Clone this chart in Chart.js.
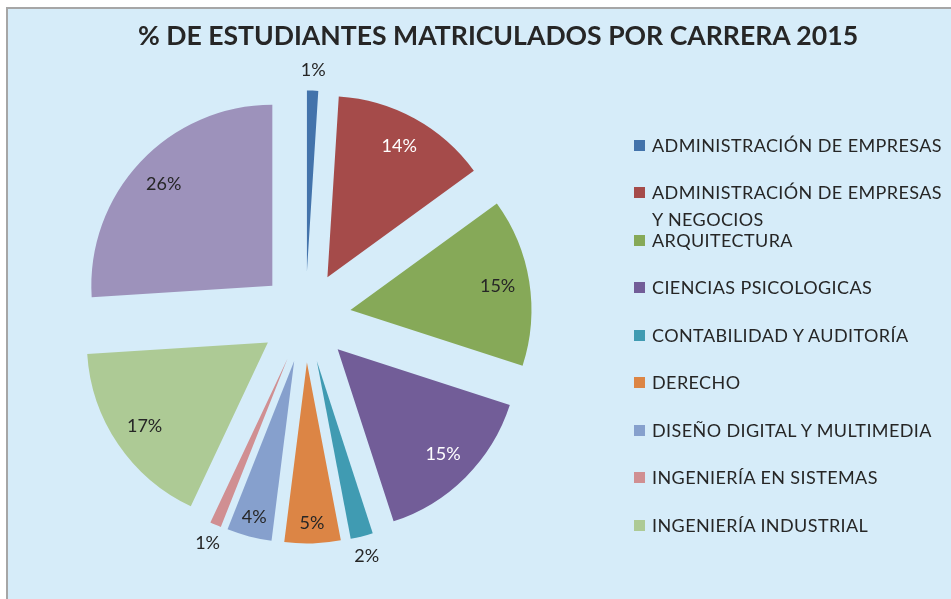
<!DOCTYPE html>
<html>
<head>
<meta charset="utf-8">
<script src="https://cdn.jsdelivr.net/npm/chart.js@4"></script>
<style>
  html, body { margin: 0; padding: 0; background: #fff; overflow: hidden; }
  body { width: 951px; height: 599px; position: relative; }
  #panel {
    position: absolute; left: 6px; top: 7px; width: 980px; height: 620px;
    background: #D6ECF9; border-left: 2px solid #A6A6A6; border-top: 2px solid #A6A6A6;
  }
  #pieChart { position: absolute; left: 0; top: 0; }
  #title {
    position: absolute; left: 0; top: 18px; width: 996px; text-align: center;
    font-family: Lato, "Open Sans", sans-serif; font-weight: bold; font-size: 26.6px;
    line-height: 35px; color: #262626; white-space: nowrap;
  }
  #legend { position: absolute; left: 0; top: 0; font-family: Lato, "Open Sans", sans-serif; font-size: 18px; letter-spacing: 0.4px; color: #262626; }
  .item { position: absolute; left: 626px; width: 295px; line-height: 27px; padding-left: 18px; }
  .item .sw { position: absolute; left: 0; top: 8px; width: 11px; height: 11px; }
</style>
</head>
<body>
<div id="panel">
  <canvas id="pieChart" width="980" height="600"></canvas>
  <div id="legend"></div>
</div>
<div id="title"></div>
<script>
  // Chart data
  const chartTitle = '% DE ESTUDIANTES MATRICULADOS POR CARRERA 2015';
  const careers = [
    'ADMINISTRACIÓN DE EMPRESAS',
    'ADMINISTRACIÓN DE EMPRESAS Y NEGOCIOS',
    'ARQUITECTURA',
    'CIENCIAS PSICOLOGICAS',
    'CONTABILIDAD Y AUDITORÍA',
    'DERECHO',
    'DISEÑO DIGITAL Y MULTIMEDIA',
    'INGENIERÍA EN SISTEMAS',
    'INGENIERÍA INDUSTRIAL',
    'OTRAS CARRERAS'
  ];
  const percents = [1, 14, 15, 15, 2, 5, 4, 1, 17, 26];
  const sliceColors = ['#4373AB', '#A54B4A', '#86A958', '#725D98', '#409BB2', '#DC8545',
                       '#86A0CD', '#D08F92', '#ADCA95', '#9D92BB'];
  const shownInLegend = 9; // the last entry is cut off in the original

  const explode = 45.5;

  // push every slice out along its mid angle
  const explodePlugin = {
    id: 'explode',
    afterDatasetUpdate(chart, args) {
      args.meta.data.forEach(function(arc) {
        const mid = (arc.startAngle + arc.endAngle) / 2;
        arc.x += Math.cos(mid) * explode;
        arc.y += Math.sin(mid) * explode;
      });
    }
  };

  // percentage labels, inside big slices and outside small ones
  const labelPlugin = {
    id: 'pctLabels',
    afterDatasetsDraw(chart) {
      const ctx = chart.ctx;
      const meta = chart.getDatasetMeta(0);
      ctx.save();
      ctx.font = '18px Lato, "Open Sans", sans-serif';
      ctx.textAlign = 'center';
      ctx.textBaseline = 'middle';
      meta.data.forEach(function(arc, i) {
        const mid = (arc.startAngle + arc.endAngle) / 2;
        const inside = percents[i] >= 4;
        let r = arc.outerRadius + 20;
        if (inside) r = percents[i] >= 10 ? 149 : 161;
        const x = arc.x + Math.cos(mid) * r;
        const y = arc.y + Math.sin(mid) * r;
        let color = '#262626';
        if (inside) {
          const c = sliceColors[i];
          const lum = 0.299 * parseInt(c.substr(1, 2), 16) + 0.587 * parseInt(c.substr(3, 2), 16) + 0.114 * parseInt(c.substr(5, 2), 16);
          if (lum < 120) color = '#FFFFFF';
        }
        ctx.fillStyle = color;
        ctx.fillText(percents[i] + '%', x, y);
      });
      ctx.restore();
    }
  };

  const ctx = document.getElementById('pieChart').getContext('2d');
  const pieChart = new Chart(ctx, {
    type: 'pie',
    data: {
      labels: careers,
      datasets: [{
        data: percents,
        backgroundColor: sliceColors,
        borderWidth: 0
      }]
    },
    options: {
      responsive: false,
      animation: false,
      radius: 181,
      layout: { padding: { left: 0, right: 385, top: 16, bottom: 0 } },
      plugins: {
        legend: { display: false },
        tooltip: { enabled: false }
      }
    },
    plugins: [explodePlugin, labelPlugin]
  });

  document.getElementById('title').textContent = chartTitle;

  // legend on the right
  const legend = document.getElementById('legend');
  for (let i = 0; i < shownInLegend; i++) {
    const item = document.createElement('div');
    item.className = 'item';
    item.style.top = (136 + i * 47.5 - 13.5) + 'px';
    item.innerHTML = '<span class="sw" style="background:' + sliceColors[i] + '"></span>' + careers[i];
    legend.appendChild(item);
  }
</script>
</body>
</html>
